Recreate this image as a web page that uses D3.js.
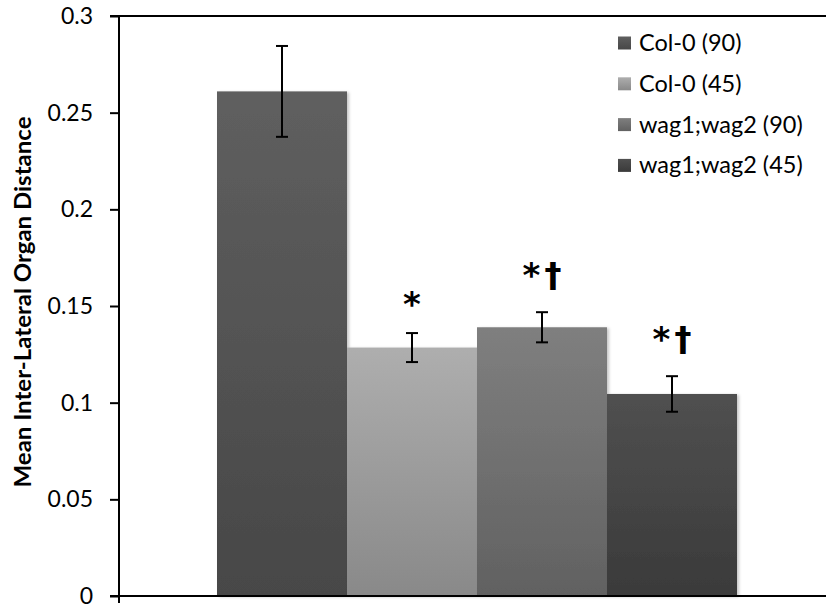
<!DOCTYPE html>
<html>
<head>
<meta charset="utf-8">
<script src="https://cdn.jsdelivr.net/npm/d3@7"></script>
<style>
  html, body { margin: 0; padding: 0; background: #fff; }
  svg { display: block; }
  text { font-family: Lato, "Open Sans", "Liberation Sans", sans-serif; }
</style>
</head>
<body>
<svg id="chart" width="826" height="607"></svg>
<script>
// ---- data ----
const categories = ["Col-0 (90)", "Col-0 (45)", "wag1;wag2 (90)", "wag1;wag2 (45)"];
const means = [0.261, 0.1285, 0.139, 0.1045];
const errors = [0.0235, 0.0075, 0.0078, 0.0092];
const annotations = ["", "*", "*†", "*†"];
const yTicks = [0, 0.05, 0.1, 0.15, 0.2, 0.25, 0.3];
const yTickLabels = ["0", "0.05", "0.1", "0.15", "0.2", "0.25", "0.3"];
const topColors = ["#5f5f5f", "#aeaeae", "#7f7f7f", "#505050"];
const bottomColors = ["#474747", "#898989", "#616161", "#3a3a3a"];
const yTitle = "Mean Inter-Lateral Organ Distance";

// ---- layout ----
const svg = d3.select("#chart");
const axisX = 119, plotRight = 826, yTop = 16, yBottom = 596;
const barsLeft = 217, barsRight = 737;
const annotLift = [26, 17, 25, 25];

const y = d3.scaleLinear().domain([0, 0.3]).range([yBottom, yTop]);
const x = d3.scaleBand().domain(categories).range([barsLeft, barsRight]).padding(0);

const defs = svg.append("defs");
categories.forEach((c, i) => {
  const g = defs.append("linearGradient").attr("id", "grad" + i)
    .attr("x1", 0).attr("y1", 0).attr("x2", 0).attr("y2", 1);
  g.append("stop").attr("offset", "0%").attr("stop-color", topColors[i]);
  g.append("stop").attr("offset", "100%").attr("stop-color", bottomColors[i]);
});
const f = defs.append("filter").attr("id", "shadow")
  .attr("x", "-10%").attr("y", "-10%").attr("width", "130%").attr("height", "130%");
f.append("feDropShadow").attr("dx", 2).attr("dy", 1).attr("stdDeviation", 1.5)
  .attr("flood-color", "#000").attr("flood-opacity", 0.22);

// bars
svg.append("g").selectAll("rect").data(categories).join("rect")
  .attr("x", d => x(d))
  .attr("y", (d, i) => y(means[i]))
  .attr("width", x.bandwidth())
  .attr("height", (d, i) => yBottom - y(means[i]))
  .attr("fill", (d, i) => `url(#grad${i})`)
  .attr("filter", "url(#shadow)");

// error bars
const eb = svg.append("g").attr("stroke", "#000").attr("stroke-width", 2);
categories.forEach((c, i) => {
  const cx = x(c) + x.bandwidth() / 2;
  const hi = y(means[i] + errors[i]), lo = y(means[i] - errors[i]);
  eb.append("line").attr("x1", cx).attr("x2", cx).attr("y1", hi).attr("y2", lo);
  eb.append("line").attr("x1", cx - 6).attr("x2", cx + 6).attr("y1", hi).attr("y2", hi);
  eb.append("line").attr("x1", cx - 6).attr("x2", cx + 6).attr("y1", lo).attr("y2", lo);
});

// annotations
svg.append("g").selectAll("text").data(categories).join("text")
  .attr("x", d => x(d) + x.bandwidth() / 2 + 2)
  .attr("y", (d, i) => y(means[i] + errors[i]) - annotLift[i])
  .attr("text-anchor", "middle")
  .attr("font-size", 34)
  .attr("font-weight", "bold")
  .attr("letter-spacing", 4)
  .attr("fill", "#000")
  .style("font-family", "'DejaVu Sans', sans-serif")
  .text((d, i) => annotations[i]);

// y axis
const yAxis = d3.axisLeft(y).tickValues(yTicks)
  .tickFormat((d, i) => yTickLabels[i]).tickSize(9).tickPadding(17);
const ga = svg.append("g").attr("transform", `translate(${axisX},0)`).call(yAxis);
ga.select(".domain").remove();
ga.selectAll(".tick line").attr("stroke", "#000").attr("stroke-width", 2);
ga.selectAll(".tick text").attr("font-size", 23).attr("fill", "#000")
  .style("font-family", "Lato, 'Open Sans', sans-serif");
svg.append("line").attr("x1", axisX).attr("x2", axisX).attr("y1", yTop).attr("y2", yBottom + 7)
  .attr("stroke", "#000").attr("stroke-width", 2);
// top border and baseline
svg.append("line").attr("x1", axisX - 9).attr("x2", plotRight).attr("y1", yTop).attr("y2", yTop)
  .attr("stroke", "#000").attr("stroke-width", 2);
svg.append("line").attr("x1", axisX - 9).attr("x2", plotRight).attr("y1", yBottom).attr("y2", yBottom)
  .attr("stroke", "#000").attr("stroke-width", 2);

// y title
svg.append("text")
  .attr("transform", `translate(31,302) rotate(-90)`)
  .attr("text-anchor", "middle")
  .attr("font-size", 23)
  .attr("font-weight", "bold")
  .attr("fill", "#000")
  .attr("textLength", 371)
  .attr("lengthAdjust", "spacingAndGlyphs")
  .text(yTitle);

// legend
const lg = svg.append("g").attr("transform", "translate(618,43)");
categories.forEach((c, i) => {
  const row = lg.append("g").attr("transform", `translate(0,${i * 40.8})`);
  row.append("rect").attr("x", 0).attr("y", -6.5).attr("width", 13).attr("height", 13)
    .attr("fill", `url(#grad${i})`);
  row.append("text").attr("x", 21).attr("y", 8).attr("font-size", 23.5).attr("fill", "#000").text(c);
});
</script>
</body>
</html>
